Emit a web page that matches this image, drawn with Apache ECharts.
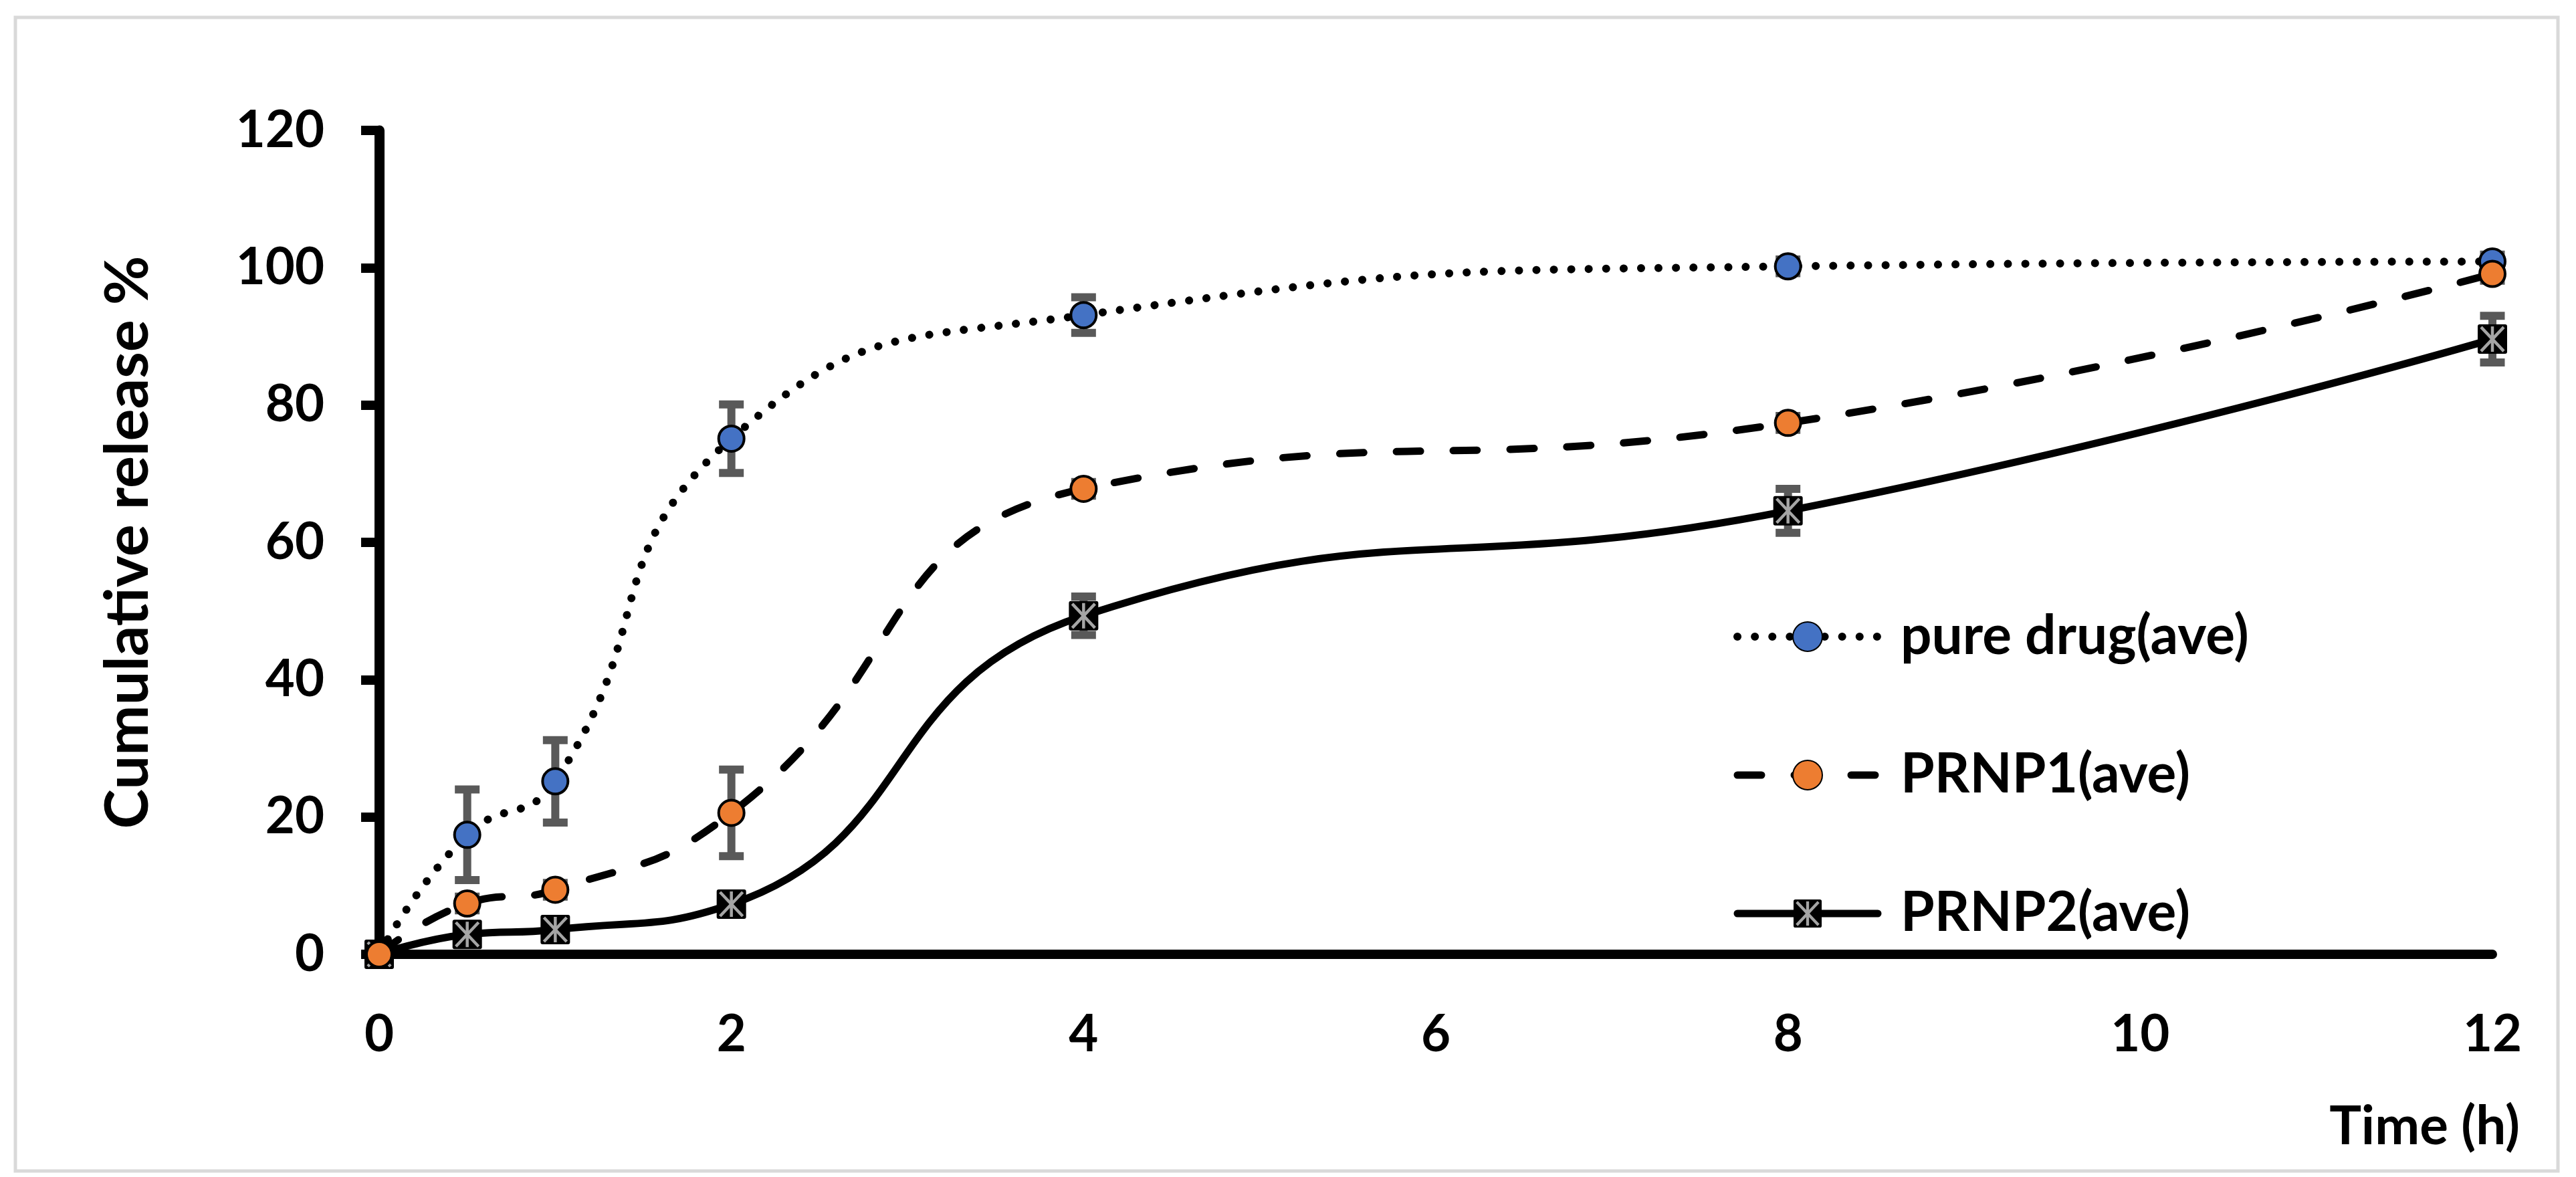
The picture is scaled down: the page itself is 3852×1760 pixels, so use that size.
<!DOCTYPE html>
<html>
<head>
<meta charset="utf-8">
<script src="https://cdn.jsdelivr.net/npm/echarts@6/dist/echarts.min.js"></script>
<style>
html,body{margin:0;padding:0;background:#fff;}
#c{width:3852px;height:1760px;}
</style>
</head>
<body>
<div id="c"></div>
<script>
// ---- data ----
var times = [0, 0.5, 1, 2, 4, 8, 12];
var pureDrug = [0, 17.4, 25.2, 75.1, 93.1, 100.2, 100.9];
var pureDrugErr = [0, 6.6, 6.0, 5.0, 2.6, 1.0, 1.0];
var prnp1 = [0, 7.4, 9.4, 20.6, 67.8, 77.4, 99.1];
var prnp1Err = [0, 1.0, 1.0, 6.3, 1.0, 1.0, 1.0];
var prnp2 = [0, 2.9, 3.6, 7.3, 49.3, 64.6, 89.6];
var prnp2Err = [0, 0.5, 0.5, 0.8, 2.8, 3.2, 3.4];
var xTicks = [0, 2, 4, 6, 8, 10, 12];
var yTicks = [0, 20, 40, 60, 80, 100, 120];
var seriesNames = ['pure drug(ave)', 'PRNP1(ave)', 'PRNP2(ave)'];

var FONT = 'Lato';

function pairs(xs, ys) { return xs.map(function (x, i) { return [x, ys[i]]; }); }
function errData(xs, ys, es) {
  return xs.map(function (x, i) { return [x, ys[i] + es[i], ys[i] - es[i], es[i]]; });
}

var starSvg = '<svg xmlns="http://www.w3.org/2000/svg" width="46" height="46" viewBox="0 0 46 46">' +
  '<rect x="1" y="1" width="44" height="44" rx="3" ry="3" fill="#000"/>' +
  '<line x1="6" y1="5" x2="40" y2="41" stroke="#A5A5A5" stroke-width="4.5"/>' +
  '<line x1="40" y1="5" x2="6" y2="41" stroke="#A5A5A5" stroke-width="4.5"/>' +
  '<line x1="23" y1="4" x2="23" y2="42" stroke="#A5A5A5" stroke-width="4.5"/>' +
  '</svg>';
var starSymbol = 'image://data:image/svg+xml;charset=utf-8,' + encodeURIComponent(starSvg);

var dotType = [0.1, 26];
var dashType = [36, 49];

function errorSeries(name, data) {
  return {
    type: 'custom',
    name: name + ' err',
    z: 1,
    silent: true,
    data: data,
    renderItem: function (params, api) {
      var e = api.value(3);
      if (!e) return null;
      var x = api.value(0);
      var pTop = api.coord([x, api.value(1)]);
      var pBot = api.coord([x, api.value(2)]);
      var st = { fill: '#595959' };
      var capW = 37, capH = 12, stemW = 12;
      return {
        type: 'group',
        children: [
          { type: 'rect', shape: { x: pTop[0] - stemW / 2, y: pTop[1], width: stemW, height: pBot[1] - pTop[1] }, style: st },
          { type: 'rect', shape: { x: pTop[0] - capW / 2, y: pTop[1] - capH / 2, width: capW, height: capH }, style: st },
          { type: 'rect', shape: { x: pBot[0] - capW / 2, y: pBot[1] - capH / 2, width: capW, height: capH }, style: st }
        ]
      };
    }
  };
}

var chart = echarts.init(document.getElementById('c'), null, { renderer: 'canvas' });
var option = {
  backgroundColor: '#ffffff',
  animation: false,
  grid: { left: 567, right: 125, top: 195, bottom: 333, containLabel: false },
  xAxis: {
    type: 'value',
    min: xTicks[0], max: xTicks[xTicks.length - 1], interval: 2,
    axisLine: { show: true, onZero: false, lineStyle: { color: '#000', width: 14 } },
    axisTick: { show: false },
    splitLine: { show: false },
    axisLabel: { margin: 82, color: '#000', fontFamily: FONT, fontWeight: 'bold', fontSize: 76 }
  },
  yAxis: {
    type: 'value',
    min: yTicks[0], max: yTicks[yTicks.length - 1], interval: 20,
    name: 'Cumulative release %',
    nameLocation: 'middle',
    nameGap: 330,
    nameRotate: 90,
    nameTextStyle: { color: '#000', fontFamily: FONT, fontWeight: 'bold', fontSize: 90 },
    axisLine: { show: true, lineStyle: { color: '#000', width: 15 } },
    axisTick: { show: true, inside: false, length: 27, lineStyle: { color: '#000', width: 14 } },
    splitLine: { show: false },
    axisLabel: { margin: 82, color: '#000', fontFamily: FONT, fontWeight: 'bold', fontSize: 76 }
  },
  legend: {
    orient: 'vertical',
    left: 2592,
    top: 911,
    padding: 0,
    itemWidth: 210,
    itemHeight: 55,
    itemGap: 125,
    data: [
      { name: seriesNames[0], lineStyle: { width: 12, type: dotType, cap: 'round', color: '#000' } },
      { name: seriesNames[1], lineStyle: { width: 11, type: dashType, cap: 'round', color: '#000' } },
      { name: seriesNames[2], lineStyle: { width: 11, type: 'solid', cap: 'round', color: '#000' } }
    ],
    textStyle: { color: '#000', fontFamily: FONT, fontWeight: 'bold', fontSize: 82, padding: [0, 0, 0, 29] }
  },
  graphic: [
    { type: 'rect', z: -1, silent: true, shape: { x: 23, y: 26, width: 3802, height: 1725 },
      style: { fill: 'none', stroke: '#D9D9D9', lineWidth: 5 } },
    { type: 'text', silent: true, x: 3768, y: 1685,
      style: { text: 'Time (h)', fill: '#000', font: 'bold 80px ' + FONT, textAlign: 'right', textVerticalAlign: 'middle' } }
  ],
  series: [
    errorSeries(seriesNames[0], errData(times, pureDrug, pureDrugErr)),
    errorSeries(seriesNames[1], errData(times, prnp1, prnp1Err)),
    errorSeries(seriesNames[2], errData(times, prnp2, prnp2Err)),
    {
      name: seriesNames[0], type: 'line', z: 3, smooth: 0.5,
      data: pairs(times, pureDrug),
      symbol: 'circle', symbolSize: 38,
      itemStyle: { color: '#4472C4', borderColor: '#000', borderWidth: 4 },
      lineStyle: { color: '#000', width: 12, type: dotType, cap: 'round' }
    },
    {
      name: seriesNames[1], type: 'line', z: 4, smooth: 0.5,
      data: pairs(times, prnp1),
      symbol: 'circle', symbolSize: 38,
      itemStyle: { color: '#ED7D31', borderColor: '#000', borderWidth: 4 },
      lineStyle: { color: '#000', width: 11, type: dashType, cap: 'round' }
    },
    {
      name: seriesNames[2], type: 'line', z: 2, smooth: 0.5,
      data: pairs(times, prnp2),
      symbol: starSymbol, symbolSize: 46,
      itemStyle: { color: '#000' },
      lineStyle: { color: '#000', width: 11, type: 'solid', cap: 'round' }
    }
  ]
};
chart.setOption(option);
</script>
</body>
</html>
